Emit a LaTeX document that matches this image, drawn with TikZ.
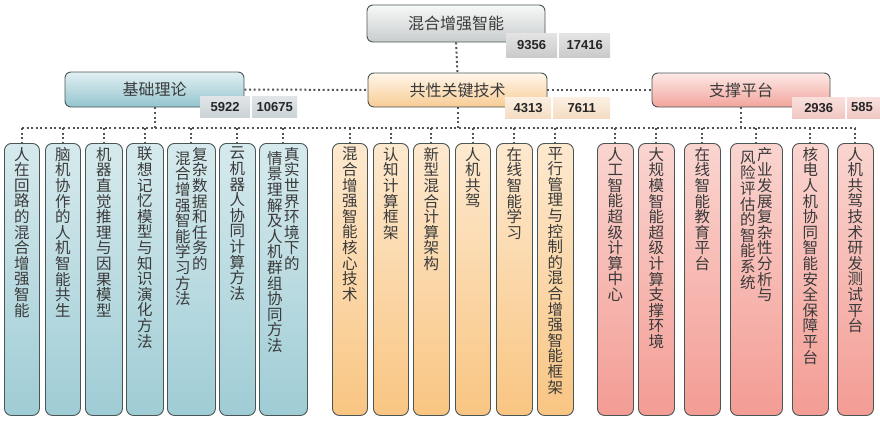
\documentclass[tikz,border=0pt]{standalone}
\usepackage{fontspec}
\newfontfamily\cjk{Noto Sans CJK SC}
\newfontfamily\numf{Liberation Sans}
\definecolor{bordc}{HTML}{4A5555}
\definecolor{txtc}{HTML}{3A3A3A}
\definecolor{dotc}{HTML}{555555}
\definecolor{gtop}{HTML}{F7F8F8}\definecolor{gbot}{HTML}{C9CDCD}
\definecolor{btop}{HTML}{E2F0F2}\definecolor{bbot}{HTML}{93C4CE}
\definecolor{otop}{HTML}{FFF6EA}\definecolor{obot}{HTML}{F8CC94}
\definecolor{ptop}{HTML}{FDE9E6}\definecolor{pbot}{HTML}{F2A49C}
\definecolor{lbtop}{HTML}{D6EAED}\definecolor{lbbot}{HTML}{9FCCD5}
\definecolor{lotop}{HTML}{FDE9CF}\definecolor{lobot}{HTML}{F9C582}
\definecolor{lptop}{HTML}{FAD5D0}\definecolor{lpbot}{HTML}{F39C94}
\definecolor{cgt}{HTML}{E4E4E4}\definecolor{cgb}{HTML}{CBCBCB}
\definecolor{cbt}{HTML}{E0E5E8}\definecolor{cbb}{HTML}{CBD3D7}
\definecolor{cot}{HTML}{FCF0E2}\definecolor{cob}{HTML}{F5DCC4}
\definecolor{cpt}{HTML}{F9E0DD}\definecolor{cpb}{HTML}{F0C7C2}
\newcommand\vcol[1]{\vtop{\baselineskip=15.6pt\lineskiplimit=-20pt\lineskip=0pt\vsloop#1\relax}}
\def\vsloop#1{\ifx\relax#1\else\hbox to 15.5pt{\hss#1\hss}\expandafter\vsloop\fi}
\tikzset{
  dotln/.style={draw=dotc, line width=2pt, dash pattern=on 2pt off 2.6pt},
  box/.style={draw=bordc, line width=0.9pt, rounded corners=6pt, inner sep=0pt, font=\cjk\fontsize{16pt}{18pt}\selectfont, text=txtc},
  graybox/.style={box, top color=gtop, bottom color=gbot},
  bluebox/.style={box, top color=btop, bottom color=bbot},
  orangebox/.style={box, top color=otop, bottom color=obot},
  pinkbox/.style={box, top color=ptop, bottom color=pbot},
  leafb/.style={draw=bordc, line width=0.9pt, rounded corners=7pt, inner sep=0pt, top color=lbtop, bottom color=lbbot},
  leafo/.style={draw=bordc, line width=0.9pt, rounded corners=7pt, inner sep=0pt, top color=lotop, bottom color=lobot},
  leafp/.style={draw=bordc, line width=0.9pt, rounded corners=7pt, inner sep=0pt, top color=lptop, bottom color=lpbot},
  ltext/.style={inner sep=0pt, font=\cjk\fontsize{15.5pt}{15.6pt}\selectfont, text=txtc},
  cell/.style={inner sep=0pt, font=\numf\bfseries\fontsize{13pt}{14pt}\selectfont, text=black!85},
  cellg/.style={cell, top color=cgt, bottom color=cgb},
  cellb/.style={cell, top color=cbt, bottom color=cbb},
  cello/.style={cell, top color=cot, bottom color=cob},
  cellp/.style={cell, top color=cpt, bottom color=cpb},
}
\newcommand\leaf[5]{%
  \node[#4, minimum width={#3-#2}, minimum height=272, anchor=north west] (#1) at (#2,143) {};
  \node[ltext, anchor=north] (#1t) at ([yshift=-4pt]#1.north) {#5};
}
\newcommand\numcell[7]{%
  \node[#6, minimum width={#3-#2}, minimum height={#5-#4}, anchor=north west] (#1) at (#2,#4) {#7};
}
\begin{document}
\begin{tikzpicture}[x=1pt,y=-1pt]
\useasboundingbox[fill=white] (0,0) rectangle (880,420);
% main nodes
\node[graybox, minimum width=178, minimum height=37] (t) at (456,23.5) {混合增强智能};
\node[bluebox, minimum width=179, minimum height=35] (b) at (154.5,89.5) {基础理论};
\node[orangebox, minimum width=179, minimum height=34] (c) at (457.5,90) {共性关键技术};
\node[pinkbox, minimum width=178, minimum height=34] (s) at (741,90) {支撑平台};
% number cells
\numcell{tn1}{506}{557}{33}{57}{cellg}{9356}
\numcell{tn2}{559}{610}{33}{57}{cellg}{17416}
\numcell{bn1}{200}{250}{96}{117}{cellb}{5922}
\numcell{bn2}{252}{297}{96}{117}{cellb}{10675}
\numcell{cn1}{505}{551}{97}{118}{cello}{4313}
\numcell{cn2}{553}{610}{97}{118}{cello}{7611}
\numcell{sn1}{792}{845}{97}{118}{cellp}{2936}
\node[cellp, minimum width=53, minimum height=21, anchor=north west] (sn2) at (847,97) {};
\node[cell, anchor=west] (sn2t) at (851,107.5) {585};
% leaves
\leaf{l1}{4}{39}{leafb}{\vcol{人在回路的混合增强智能}}
\leaf{l2}{45}{80}{leafb}{\vcol{脑机协作的人机智能共生}}
\leaf{l3}{85}{122}{leafb}{\vcol{机器直觉推理与因果模型}}
\leaf{l4}{126}{163}{leafb}{\vcol{联想记忆模型与知识演化方法}}
\leaf{l5}{167}{215}{leafb}{\raisebox{-4pt}{\vcol{混合增强智能学习方法}}\kern1.5pt\vcol{复杂数据和任务的}}
\leaf{l6}{219}{255}{leafb}{\vcol{云机器人协同计算方法}}
\leaf{l7}{259}{307}{leafb}{\raisebox{-4pt}{\vcol{情景理解及人机群组协同方法}}\kern1.5pt\vcol{真实世界环境下的}}
\leaf{l8}{332}{367}{leafo}{\vcol{混合增强智能核心技术}}
\leaf{l9}{373}{408}{leafo}{\vcol{认知计算框架}}
\leaf{l10}{413}{449}{leafo}{\vcol{新型混合计算架构}}
\leaf{l11}{455}{490}{leafo}{\vcol{人机共驾}}
\leaf{l12}{496}{532}{leafo}{\vcol{在线智能学习}}
\leaf{l13}{537}{573}{leafo}{\vcol{平行管理与控制的混合增强智能框架}}
\leaf{l14}{597}{633}{leafp}{\vcol{人工智能超级计算中心}}
\leaf{l15}{638}{674}{leafp}{\vcol{大规模智能超级计算支撑环境}}
\leaf{l16}{684}{720}{leafp}{\vcol{在线智能教育平台}}
\leaf{l17}{730}{782}{leafp}{\raisebox{-3pt}{\vcol{风险评估的智能系统}}\kern1.5pt\vcol{产业发展复杂性分析与}}
\leaf{l18}{792}{828}{leafp}{\vcol{核电人机协同智能安全保障平台}}
\leaf{l19}{837}{873}{leafp}{\vcol{人机共驾技术研发测试平台}}
% connectors
\coordinate (bus) at (0,128);
\draw[dotln] (t.south) -- (c.north);
\draw[dotln] (b.east) -- (c.west);
\draw[dotln] (c.east) -- (s.west);
\draw[dotln] (l1.north |- bus) -- (l19.north |- bus);
\foreach \m in {b,c,s} {\draw[dotln] (\m.south) -- (\m.south |- bus);}
\foreach \i in {1,...,19} {\draw[dotln] (l\i.north |- bus) -- (l\i.north);}
\end{tikzpicture}
\end{document}
